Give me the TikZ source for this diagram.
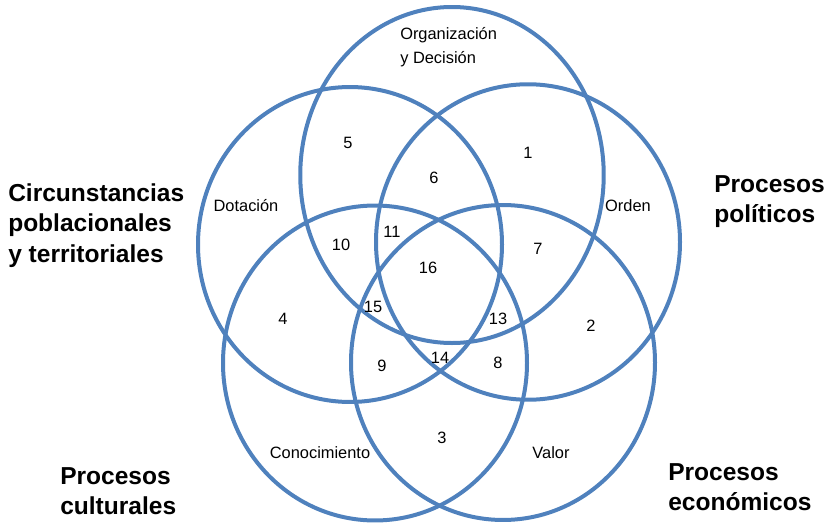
\documentclass[tikz,border=0pt]{standalone}
\usepackage{fontspec}
\setmainfont{Liberation Sans}
\definecolor{vblue}{RGB}{79,129,189}
\begin{document}
\begin{tikzpicture}[x=0.75pt,y=-0.75pt,
  ring/.style={draw=vblue, line width=3pt},
  num/.style={font=\fontsize{12.3}{18}\selectfont, inner sep=0pt, text height=8.8pt, text depth=0pt},
  lbl/.style={font=\fontsize{12.3}{18}\selectfont, inner sep=0pt, align=left},
  big/.style={font=\fontsize{18.4}{22.9}\selectfont\bfseries, inner sep=0pt, align=left}]
\useasboundingbox (0,0) rectangle (832,525);
% circles
\draw[ring] (452,175) ellipse [x radius=113.8pt, y radius=126pt];
\draw[ring] (350,244.5) ellipse [x radius=114pt, y radius=118.1pt];
\draw[ring] (528,242) ellipse [x radius=114pt, y radius=118.3pt];
\draw[ring] (375,363) ellipse [x radius=114pt, y radius=118.1pt];
\draw[ring] (503,362.5) ellipse [x radius=114pt, y radius=118.1pt];
% region numbers
\node[num] (n1) at (528,153) {1};
\node[num] (n2) at (591,326) {2};
\node[num] (n3) at (442,438) {3};
\node[num] (n4) at (283,319) {4};
\node[num] (n5) at (348,143) {5};
\node[num] (n6) at (434,178) {6};
\node[num] (n7) at (538,249) {7};
\node[num] (n8) at (498,363) {8};
\node[num] (n9) at (382,366) {9};
\node[num] (n10) at (341,245) {10};
\node[num] (n11) at (392,232) {11};
\node[num] (n13) at (498,319) {13};
\node[num] (n14) at (440,358) {14};
\node[num] (n15) at (373,307) {15};
\node[num] (n16) at (428,268) {16};
% circle labels
\node[lbl, anchor=north west] (org) at (400,27) {Organización\\y Decisión};
\node[num] (dot) at (246,206) {Dotación};
\node[num] (ord) at (628,206) {Orden};
\node[num] (con) at (320,453) {Conocimiento};
\node[num] (val) at (551,453) {Valor};
% outer labels
\node[big, anchor=north west] (cir) at (8,183) {Circunstancias\\poblacionales\\y territoriales};
\node[big, anchor=north west] (pol) at (714,175) {Procesos\\políticos};
\node[big, anchor=north west] (cul) at (60,467) {Procesos\\culturales};
\node[big, anchor=north west] (eco) at (668,463) {Procesos\\económicos};
\end{tikzpicture}
\end{document}
